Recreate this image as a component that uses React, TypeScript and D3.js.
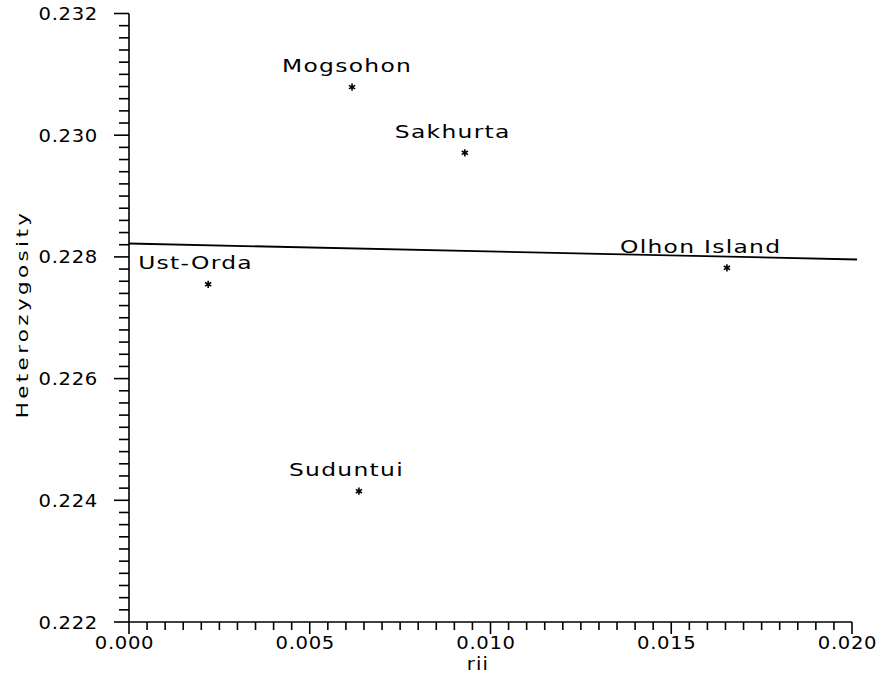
import React from "react";
import * as d3 from "d3";

const populations = ["Mogsohon", "Sakhurta", "Olhon Island", "Ust-Orda", "Suduntui"];
const riiValues = [0.00617, 0.00929, 0.01654, 0.00219, 0.00636];
const hetValues = [0.23079, 0.22971, 0.22782, 0.22755, 0.22415];
const fitX = [0, 0.02014];
const fitY = [0.22822, 0.227957];
const xTicks = [0, 0.005, 0.01, 0.015, 0.02];
const yTicks = [0.222, 0.224, 0.226, 0.228, 0.23, 0.232];

const W = 881;
const H = 675;
const FONT = "'DejaVu Sans', sans-serif";

function SText({
  x,
  y,
  sx,
  anchor,
  size,
  ls,
  rotate,
  children,
}: {
  x: number;
  y: number;
  sx: number;
  anchor?: string;
  size: number;
  ls: number;
  rotate?: number;
  children: React.ReactNode;
}) {
  return (
    <g transform={`translate(${x},${y}) rotate(${rotate ?? 0}) scale(${sx},1)`}>
      <text
        x={0}
        y={0}
        textAnchor={anchor ?? "start"}
        fontFamily={FONT}
        fontSize={size}
        letterSpacing={ls}
        fill="#000"
      >
        {children}
      </text>
    </g>
  );
}

export default function App() {
  const x = d3.scaleLinear().domain([0, 0.02]).range([129, 852]);
  const y = d3.scaleLinear().domain([0.222, 0.232]).range([622, 13.5]);

  const xMinor = d3.range(0, 40 + 1).map((i) => i * 0.0005);
  const yMinor = d3.range(0, 50 + 1).map((i) => 0.222 + i * 0.0002);

  const line = d3
    .line<number>()
    .x((_, i) => x(fitX[i]))
    .y((d) => y(d));

  const star = d3.symbol().type(d3.symbolAsterisk).size(36)();

  const labelDx: Record<string, number> = { "Olhon Island": -107 };

  return (
    <svg
      width={W}
      height={H}
      style={{ position: "absolute", left: 0, top: 0, background: "#fff" }}
    >
      <g stroke="#000" strokeWidth={1.6} fill="none">
        <line x1={x(0)} x2={x(0)} y1={y(0.232)} y2={y(0.222)} />
        <line x1={x(0)} x2={x(0.02)} y1={y(0.222)} y2={y(0.222)} />
        {xMinor.map((t, i) => (
          <line
            key={"xm" + i}
            x1={x(t)}
            x2={x(t)}
            y1={y(0.222)}
            y2={y(0.222) + (i % 10 === 0 ? 12 : 8)}
          />
        ))}
        {yMinor.map((t, i) => (
          <line
            key={"ym" + i}
            x1={x(0)}
            x2={x(0) - (i % 10 === 0 ? 15 : 10)}
            y1={y(t)}
            y2={y(t)}
          />
        ))}
        <path d={line(fitY) || ""} strokeWidth={1.8} />
      </g>
      {xTicks.map((t) => (
        <SText key={"xt" + t} x={x(t) - 4.5} y={649} sx={1.12} anchor="middle" size={17.5} ls={0.6}>
          {d3.format(".3f")(t)}
        </SText>
      ))}
      {yTicks.map((t) => (
        <SText key={"yt" + t} x={98} y={y(t) + 6.5} sx={1.12} anchor="end" size={17.5} ls={0.6}>
          {d3.format(".3f")(t)}
        </SText>
      ))}
      <SText x={478} y={670} sx={1.15} anchor="middle" size={17} ls={1}>
        rii
      </SText>
      <SText x={28} y={314} sx={1.3} anchor="middle" size={16.5} ls={2.6} rotate={-90}>
        Heterozygosity
      </SText>
      {populations.map((p, i) => (
        <g key={p}>
          <path
            d={star || ""}
            transform={`translate(${x(riiValues[i])},${y(hetValues[i])})`}
            stroke="#000"
            strokeWidth={1.6}
            fill="none"
          />
          <SText
            x={x(riiValues[i]) + (labelDx[p] ?? -70)}
            y={y(hetValues[i]) - 15}
            sx={1.3}
            size={18}
            ls={1}
          >
            {p}
          </SText>
        </g>
      ))}
    </svg>
  );
}
